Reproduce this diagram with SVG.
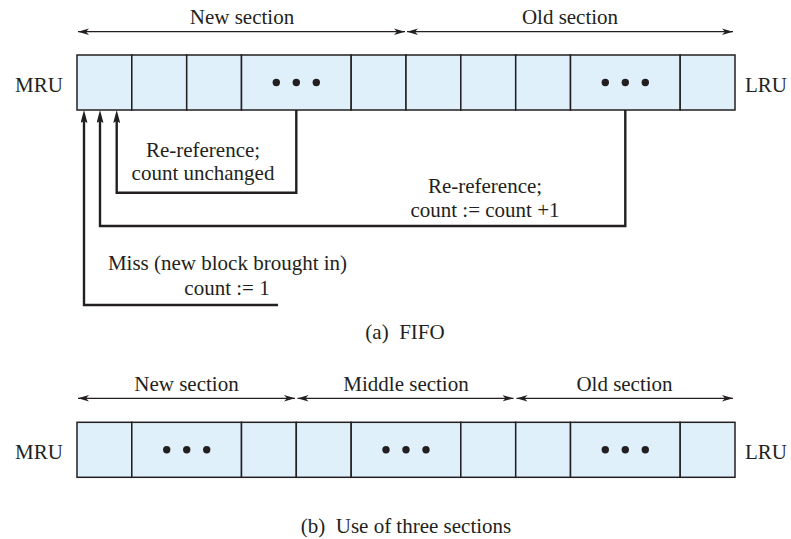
<svg xmlns="http://www.w3.org/2000/svg" width="791" height="539" viewBox="0 0 791 539">
<defs>
<style>
text{font-family:"Liberation Serif","Times New Roman",serif;font-size:21px;fill:#231f20}
.c{text-anchor:middle}
.cell{fill:#dff0fb;stroke:#231f20;stroke-width:1.5}
.dot{fill:#231f20}
.sec{stroke:#231f20;stroke-width:1.2;fill:none;marker-start:url(#sa);marker-end:url(#sa)}
.conn{stroke:#231f20;stroke-width:2.4;fill:none;marker-end:url(#ca)}
</style>
<marker id="sa" markerUnits="userSpaceOnUse" markerWidth="11" markerHeight="7" refX="11" refY="3.5" orient="auto-start-reverse">
<path d="M0,0.3 L11,3.5 L0,6.7 L3,3.5 z" fill="#231f20"/>
</marker>
<marker id="ca" markerUnits="userSpaceOnUse" markerWidth="13" markerHeight="7" refX="7" refY="3.5" orient="auto">
<path d="M0,0 L13,3.5 L0,7 L2,3.5 z" fill="#231f20"/>
</marker>
</defs>
<rect width="791" height="539" fill="#fff"/>

<!-- (a) FIFO -->
<g id="fifo-sections">
<line class="sec" x1="78" y1="31.7" x2="405" y2="31.7"/>
<line class="sec" x1="407" y1="31.7" x2="733" y2="31.7"/>
<text class="c" x="242" y="24">New section</text>
<text class="c" x="570" y="24">Old section</text>
</g>
<g id="fifo-mru"><text x="15" y="91.5">MRU</text></g>
<g id="fifo-lru"><text x="745" y="91.5">LRU</text></g>
<g id="fifo-bar">
<rect class="cell" x="77" y="55" width="54.8" height="55"/>
<rect class="cell" x="131.8" y="55" width="54.9" height="55"/>
<rect class="cell" x="186.7" y="55" width="54.8" height="55"/>
<rect class="cell" x="241.5" y="55" width="109.7" height="55"/>
<rect class="cell" x="351.2" y="55" width="54.8" height="55"/>
<rect class="cell" x="406" y="55" width="54.8" height="55"/>
<rect class="cell" x="460.8" y="55" width="54.9" height="55"/>
<rect class="cell" x="515.7" y="55" width="54.8" height="55"/>
<rect class="cell" x="570.5" y="55" width="109.7" height="55"/>
<rect class="cell" x="680.2" y="55" width="54.8" height="55"/>
<circle class="dot" cx="276.3" cy="82.5" r="3.7"/>
<circle class="dot" cx="296.3" cy="82.5" r="3.7"/>
<circle class="dot" cx="316.3" cy="82.5" r="3.7"/>
<circle class="dot" cx="605.3" cy="82.5" r="3.7"/>
<circle class="dot" cx="625.3" cy="82.5" r="3.7"/>
<circle class="dot" cx="645.3" cy="82.5" r="3.7"/>
</g>

<g id="connectors">
<path class="conn" d="M296.3,110 V192.7 H116.7 V116"/>
<path class="conn" d="M625.3,110 V226 H100 V116"/>
<path class="conn" d="M278,305 H84 V116"/>
</g>

<g id="label-rereference-new">
<text class="c" x="203" y="157">Re-reference;</text>
<text class="c" x="203" y="180">count unchanged</text>
</g>
<g id="label-rereference-old">
<text class="c" x="485" y="193">Re-reference;</text>
<text class="c" x="485" y="216.5" xml:space="preserve">count := count +1</text>
</g>
<g id="label-miss">
<text class="c" x="227.5" y="270">Miss (new block brought in)</text>
<text class="c" x="227" y="294.5">count := 1</text>
</g>
<g id="caption-a"><text class="c" x="405" y="339" xml:space="preserve">(a)  FIFO</text></g>

<!-- (b) three sections -->
<g id="three-sections">
<line class="sec" x1="78" y1="398.3" x2="295" y2="398.3"/>
<line class="sec" x1="297.5" y1="398.3" x2="513.5" y2="398.3"/>
<line class="sec" x1="516.5" y1="398.3" x2="733" y2="398.3"/>
<text class="c" x="186.5" y="391">New section</text>
<text class="c" x="406" y="391">Middle section</text>
<text class="c" x="624.5" y="391">Old section</text>
</g>
<g id="three-mru"><text x="15" y="458.5">MRU</text></g>
<g id="three-lru"><text x="745" y="458.5">LRU</text></g>
<g id="three-bar">
<rect class="cell" x="77" y="422.3" width="54.8" height="55"/>
<rect class="cell" x="131.8" y="422.3" width="109.7" height="55"/>
<rect class="cell" x="241.5" y="422.3" width="54.8" height="55"/>
<rect class="cell" x="296.3" y="422.3" width="54.9" height="55"/>
<rect class="cell" x="351.2" y="422.3" width="109.6" height="55"/>
<rect class="cell" x="460.8" y="422.3" width="54.9" height="55"/>
<rect class="cell" x="515.7" y="422.3" width="54.8" height="55"/>
<rect class="cell" x="570.5" y="422.3" width="109.7" height="55"/>
<rect class="cell" x="680.2" y="422.3" width="54.8" height="55"/>
<circle class="dot" cx="166.7" cy="449.8" r="3.7"/>
<circle class="dot" cx="186.7" cy="449.8" r="3.7"/>
<circle class="dot" cx="206.7" cy="449.8" r="3.7"/>
<circle class="dot" cx="386" cy="449.8" r="3.7"/>
<circle class="dot" cx="406" cy="449.8" r="3.7"/>
<circle class="dot" cx="426" cy="449.8" r="3.7"/>
<circle class="dot" cx="605.3" cy="449.8" r="3.7"/>
<circle class="dot" cx="625.3" cy="449.8" r="3.7"/>
<circle class="dot" cx="645.3" cy="449.8" r="3.7"/>
</g>
<g id="caption-b"><text class="c" x="406" y="533" xml:space="preserve">(b)  Use of three sections</text></g>
</svg>
